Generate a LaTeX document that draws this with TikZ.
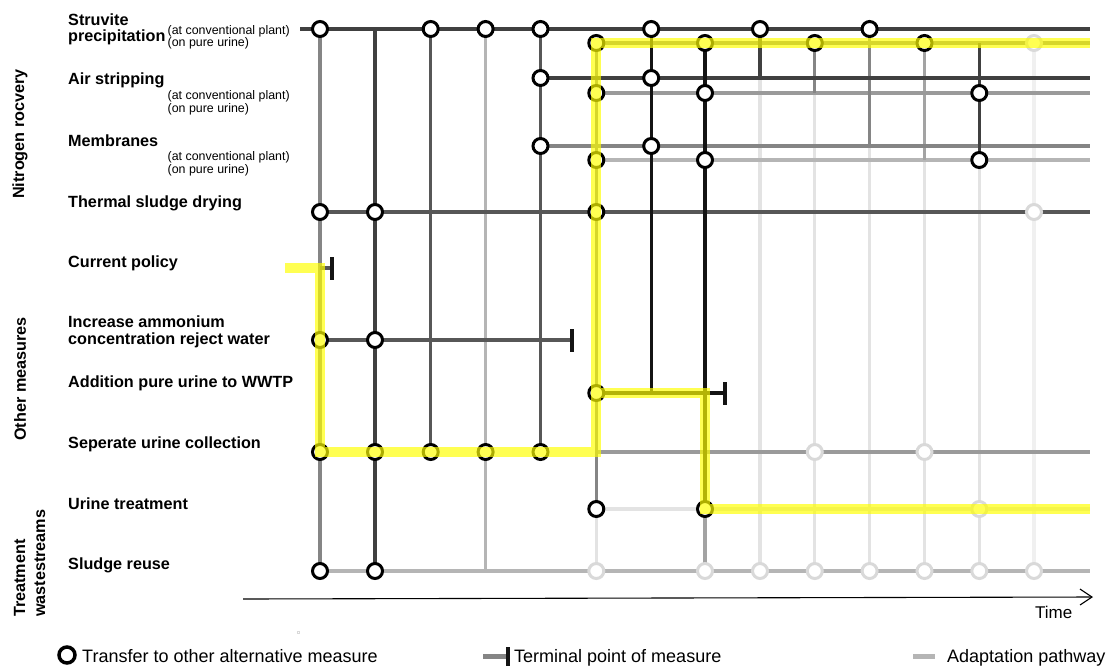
\documentclass[tikz,border=0pt]{standalone}
\usepackage{fontspec}
\setmainfont{Liberation Sans}
\usetikzlibrary{arrows.meta}
\definecolor{kblack}{HTML}{141414}
\definecolor{kdark}{HTML}{404040}
\definecolor{kdarkb}{HTML}{575757}
\definecolor{kmid}{HTML}{858585}
\definecolor{kmidb}{HTML}{9A9A9A}
\definecolor{klight}{HTML}{B5B5B5}
\definecolor{kvlight}{HTML}{E3E3E3}
\definecolor{kvvlight}{HTML}{F0F0F0}
\definecolor{kghost}{HTML}{D9D9D9}
\definecolor{kyellow}{HTML}{FFFF00}
\begin{document}
\begin{tikzpicture}[x=1pt,y=-1pt,
  lab/.style={font=\bfseries\fontsize{16.2}{18}\selectfont, anchor=base west, inner sep=0pt},
  sublab/.style={font=\fontsize{12.4}{14}\selectfont, anchor=base west, inner sep=0pt},
  rotlab/.style={font=\bfseries\fontsize{16.2}{18}\selectfont, rotate=90, inner sep=0pt},
  leglab/.style={font=\fontsize{18}{20}\selectfont, anchor=base west, inner sep=0pt},
  ln/.style={line width=3.2pt},
  hub/.style={circle, draw=black, fill=white, line width=3pt, minimum size=15pt, inner sep=0pt},
  ghost/.style={circle, draw=kghost, fill=white, line width=3pt, minimum size=15pt, inner sep=0pt},
  termbar/.style={line width=3.5pt, draw=kblack},
  ypath/.style={line width=10pt, draw=kyellow, draw opacity=0.68}
]
\useasboundingbox (0,0) rectangle (1113,667);
% grid coordinates
\foreach \r/\yy in {sc/29,su/43,ac/78,au/93,mc/146,mu/160,th/212,cp/268,am/340,ad/393,se/452,ut/509,sr/571}{
  \foreach \c/\xx in {1/320,2/375,3/430.7,4/485.6,5/540.5,6/596.3,7/651.2,8/705,9/760,10/814.8,11/869.6,12/924.5,13/979.3,14/1034,E/1090}{
    \coordinate (\r\c) at (\xx,\yy);
  }
}
\coordinate (scS) at (300,29);
\coordinate (cpY) at (285,268);
\coordinate (cpT) at (332,268);
\coordinate (amT) at (572,340);
\coordinate (adT) at (725,393);
\coordinate (ax0) at (243,599);
\coordinate (ax1) at (1093,597);

% very light
\draw[ln, kvvlight] (su14) -- (sr14);
\draw[ln, kvlight] (ac9) -- (sr9);
\draw[ln, kvlight] (au10) -- (sr10);
\draw[ln, kvlight] (mc11) -- (sr11);
\draw[ln, kvlight] (mu12) -- (sr12);
\draw[ln, kvlight] (mu13) -- (sr13);
\draw[ln, kvlight] (ut6) -- (sr6);
\draw[ln, kvlight] (ut6) -- (utE);
% light
\draw[ln, klight] (sc4) -- (sr4);
\draw[ln, klight] (mu6) -- (muE);
\draw[ln, klight] (sr1) -- (srE);
\draw[ln, klight!90!black] (ut8) -- (sr8);
\draw[ln, klight!90!black] (su12) -- (mu12);
% mid b
\draw[ln, kmidb] (au6) -- (auE);
\draw[ln, kmidb] (se6) -- (seE);
% mid
\draw[ln, kmid] (sc1) -- (sr1);
\draw[ln, kmid] (mc5) -- (mcE);
\draw[ln, kmid] (su10) -- (au10);
\draw[ln, kmid] (sc11) -- (mc11);
\draw[ln, kmid] (se6) -- (ut6);
\draw[ln, kmid] (su6) -- (suE);
\draw[ln, kmid] (su6) -- (se6);
% dark b
\draw[ln, kdarkb] (sc3) -- (se3);
\draw[ln, kdarkb] (sc5) -- (se5);
\draw[ln, kdarkb] (th1) -- (thE);
\draw[ln, kdarkb] (am1) -- (amT);
\draw[ln, kdarkb] (cp1) -- (cpT);
% dark
\draw[ln, kdark] (scS) -- (scE);
\draw[ln, kdark] (sc2) -- (sr2);
\draw[ln, kdark] (ac5) -- (acE);
\draw[ln, kdark] (sc9) -- (ac9);
\draw[ln, kdark] (su13) -- (mu13);
% black
\draw[ln, kblack] (sc7) -- (ad7);
\draw[ln, kblack] (su8) -- (ut8);
\draw[ln, kblack] (ad6) -- (adT);
% terminal bars
\draw[termbar] ([yshift=11pt]cpT) -- ([yshift=-12pt]cpT);
\draw[termbar] ([yshift=11pt]amT) -- ([yshift=-12pt]amT);
\draw[termbar] ([yshift=11pt]adT) -- ([yshift=-12pt]adT);

% transfer circles
\foreach \p in {sc1,sc3,sc4,sc5,sc7,sc9,sc11,su6,su8,su10,su12,ac5,ac7,au6,au8,au13,mc5,mc7,mu6,mu8,mu13,th1,th2,th6,am1,am2,ad6,se1,se2,se3,se4,se5,ut6,ut8,sr1,sr2}{
  \node[hub] (n\p) at (\p) {};
}
\foreach \p in {su14,th14,se10,se12,ut13,sr6,sr8,sr9,sr10,sr11,sr12,sr13,sr14}{
  \node[ghost] (g\p) at (\p) {};
}

% yellow pathway
\draw[ypath] (cpY) -- (cp1) -- (se1) -- (se6) -- (su6) -- (suE);
\draw[ypath] ([xshift=5pt]ad6) -- (ad8) -- (ut8) -- (utE);

% time axis
\draw[line width=1.1pt, -{Straight Barb[length=12pt,width=16pt,line width=1.1pt]}] (ax0) -- (ax1);
\node[leglab, font=\fontsize{17}{19}\selectfont] (time) at (1035,618) {Time};

% labels
\node[lab] (l1) at (68,25) {Struvite};
\node[lab] (l2) at (68,41) {precipitation};
\node[sublab] (s1) at (167.5,34) {(at conventional plant)};
\node[sublab] (s2) at (167.5,46) {(on pure urine)};
\node[lab] (l3) at (68,84) {Air stripping};
\node[sublab] (s3) at (167.5,99) {(at conventional plant)};
\node[sublab] (s4) at (167.5,112) {(on pure urine)};
\node[lab] (l4) at (68,146) {Membranes};
\node[sublab] (s5) at (167.5,160) {(at conventional plant)};
\node[sublab] (s6) at (167.5,173) {(on pure urine)};
\node[lab] (l5) at (68,207) {Thermal sludge drying};
\node[lab] (l6) at (68,267) {Current policy};
\node[lab] (l7) at (68,327.5) {Increase ammonium};
\node[lab] (l8) at (68,344) {concentration reject water};
\node[lab] (l9) at (68,387) {Addition pure urine to WWTP};
\node[lab] (l10) at (68,448) {Seperate urine collection};
\node[lab] (l11) at (68,509) {Urine treatment};
\node[lab] (l12) at (68,569) {Sludge reuse};

\node[rotlab] (g1) at (20,134) {Nitrogen rocvery};
\node[rotlab] (g2) at (20,379) {Other measures};
\node[rotlab, anchor=base west] (g3) at (25,617) {Treatment};
\node[rotlab, anchor=base west] (g4) at (45,617) {wastestreams};

% tiny artefact
\draw[kghost, line width=0.6pt] (297,631) rectangle (299.5,633.5);

% legend
\node[hub, line width=3.5pt, minimum size=16pt] (lg1) at (67,655) {};
\node[leglab] (lt1) at (82,662) {Transfer to other alternative measure};
\coordinate (lg2a) at (483,656);
\coordinate (lg2b) at (506,656);
\draw[line width=5pt, kmid] (lg2a) -- (lg2b);
\draw[line width=4pt, kblack] ([yshift=9pt]lg2b) ++(1.5,0) -- ++(0,19);
\node[leglab] (lt2) at (514,662) {Terminal point of measure};
\coordinate (lg3a) at (913,656);
\coordinate (lg3b) at (935,656);
\draw[line width=5pt, klight] (lg3a) -- (lg3b);
\node[leglab] (lt3) at (947,662) {Adaptation pathway};
\end{tikzpicture}
\end{document}
